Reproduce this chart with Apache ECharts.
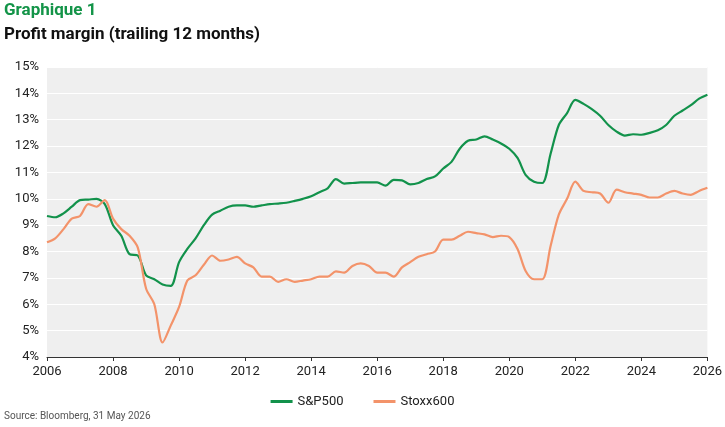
<!DOCTYPE html>
<html><head><meta charset="utf-8">
<script src="https://cdn.jsdelivr.net/npm/echarts@6/dist/echarts.min.js"></script>
<style>html,body{margin:0;padding:0;background:#fff}#c{width:725px;height:427px}</style>
</head><body><div id="c"></div>
<script>
var years = [];
for (var i = 0; i <= 80; i++) years.push(2006 + i * 0.25);
var spx = [9.35,9.3,9.45,9.7,9.95,9.97,10.0,9.8,9.0,8.6,7.9,7.85,7.1,6.95,6.75,6.7,7.6,8.1,8.5,9.0,9.4,9.55,9.7,9.75,9.75,9.7,9.75,9.8,9.82,9.85,9.92,10.0,10.1,10.25,10.4,10.75,10.58,10.6,10.62,10.62,10.62,10.5,10.72,10.7,10.55,10.6,10.75,10.85,11.15,11.4,11.9,12.2,12.25,12.37,12.25,12.1,11.9,11.55,10.9,10.65,10.6,11.7,12.8,13.25,13.75,13.6,13.4,13.15,12.8,12.55,12.4,12.45,12.43,12.5,12.6,12.8,13.15,13.35,13.55,13.8,13.95];
var stoxx = [8.35,8.5,8.85,9.25,9.35,9.8,9.7,9.95,9.25,8.85,8.6,8.15,6.6,6.0,4.55,5.2,5.9,6.9,7.1,7.5,7.85,7.65,7.7,7.8,7.55,7.4,7.05,7.05,6.85,6.95,6.85,6.9,6.95,7.05,7.05,7.25,7.2,7.45,7.55,7.45,7.2,7.2,7.05,7.4,7.6,7.8,7.9,8.0,8.45,8.45,8.6,8.75,8.7,8.65,8.55,8.6,8.55,8.1,7.25,6.95,6.95,8.2,9.4,10.0,10.65,10.3,10.25,10.2,9.85,10.35,10.25,10.2,10.15,10.05,10.05,10.2,10.3,10.2,10.15,10.3,10.42];
function pairs(v){return v.map(function(y,i){return [years[i],y];});}
var chart = echarts.init(document.getElementById('c'));
var font = 'Roboto';
chart.setOption({
  animation:false,
  textStyle:{fontFamily:font},
  graphic:[
    {type:'text',left:4,top:2,style:{text:'Graphique 1',fill:'#139448',font:'bold 17px '+font}},
    {type:'text',left:4,top:26,style:{text:'Profit margin (trailing 12 months)',fill:'#111',font:'bold 17px '+font}},
    {type:'text',left:4,top:411,style:{text:'Source: Bloomberg, 31 May 2026',fill:'#555',font:'10px '+font}}
  ],
  grid:{left:47,right:13,top:67,bottom:70,backgroundColor:'#efefef',show:true,borderWidth:0},
  legend:{bottom:14,left:'center',itemWidth:22,itemHeight:3,itemGap:30,icon:'rect',
    textStyle:{fontSize:13,color:'#222'},data:['S&P500','Stoxx600']},
  xAxis:{type:'value',min:2006,max:2026,interval:2,
    axisLine:{show:true,lineStyle:{color:'#333'}},axisTick:{show:true,length:4,lineStyle:{color:'#333'}},
    splitLine:{show:false},axisLabel:{color:'#222',fontSize:13,margin:8,formatter:function(v){return String(v);}}},
  yAxis:{type:'value',min:4,max:15,interval:1,
    axisLine:{show:false},axisTick:{show:false},
    splitLine:{lineStyle:{color:'#fff',width:1}},
    axisLabel:{color:'#222',fontSize:13,formatter:'{value}%'}},
  series:[
    {name:'S&P500',type:'line',data:pairs(spx),showSymbol:false,smooth:0.3,
      lineStyle:{color:'#12924b',width:2.2},itemStyle:{color:'#12924b'}},
    {name:'Stoxx600',type:'line',data:pairs(stoxx),showSymbol:false,smooth:0.3,
      lineStyle:{color:'#f3936a',width:2.2},itemStyle:{color:'#f3936a'}}
  ]
});
</script></body></html>
